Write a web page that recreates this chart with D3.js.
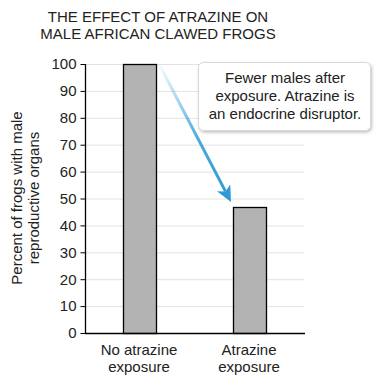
<!DOCTYPE html>
<html><head><meta charset="utf-8">
<script src="https://cdn.jsdelivr.net/npm/d3@7"></script>
<style>body{margin:0;background:#fff}svg{display:block;font-family:"Liberation Sans",Arial,sans-serif}</style>
</head><body>
<svg id="c" width="379" height="382"></svg>
<script>
const categories = [["No atrazine","exposure"],["Atrazine","exposure"]];
const values = [100, 47];
const yTicks = [0,10,20,30,40,50,60,70,80,90,100];
const titleLines = ["THE EFFECT OF ATRAZINE ON","MALE AFRICAN CLAWED FROGS"];
const yLabelLines = ["Percent of frogs with male","reproductive organs"];
const calloutLines = ["Fewer males after","exposure. Atrazine is","an endocrine disruptor."];

const FS = 15;
const svg = d3.select("#c");
const keys = categories.map((d,i)=>String(i));
const x = d3.scaleBand().domain(keys).range([84,304]).paddingInner(0.7).paddingOuter(0.35);
const y = d3.scaleLinear().domain([0,100]).range([333,64]);

// grid
svg.append("g").selectAll("line").data(yTicks.filter(d=>d>0)).join("line")
  .attr("x1",85).attr("x2",304).attr("y1",d=>y(d)+0.5).attr("y2",d=>y(d)+0.5)
  .attr("stroke","#e3e3e3").attr("stroke-width",1);

// bars
svg.append("g").selectAll("rect").data(values).join("rect")
  .attr("x",(d,i)=>Math.round(x(keys[i]))+0.5).attr("y",d=>Math.round(y(d))+0.5)
  .attr("width",Math.round(x.bandwidth())).attr("height",d=>Math.round(y(0))-Math.round(y(d)))
  .attr("fill","#b3b3b3").attr("stroke","#000").attr("stroke-width",1.3);

// y axis
const ya = svg.append("g").attr("transform","translate(85.5,0)")
  .call(d3.axisLeft(y).tickValues(yTicks).tickSize(5).tickPadding(4));
ya.select(".domain").attr("d",`M0,${y(100)}V${y(0)}`).attr("stroke","#000").attr("stroke-width",1.3);
ya.selectAll(".tick line").attr("stroke","#000");
ya.selectAll("text").attr("font-size",FS).attr("fill","#222").style("font-family","'Liberation Sans',Arial,sans-serif");

// x axis line
svg.append("line").attr("x1",85).attr("x2",305).attr("y1",y(0)+0.5).attr("y2",y(0)+0.5)
  .attr("stroke","#000").attr("stroke-width",1.3);

// x labels
const xl = svg.append("g").selectAll("text").data(categories).join("text")
  .attr("x",(d,i)=>x(keys[i])+x.bandwidth()/2).attr("y",354.5)
  .attr("text-anchor","middle").attr("font-size",FS).attr("fill","#222");
xl.selectAll("tspan").data(d=>d).join("tspan")
  .attr("x",function(){return this.parentNode.getAttribute("x");})
  .attr("dy",(d,i)=>i?17.5:0).text(d=>d);

// title
svg.append("g").selectAll("text").data(titleLines).join("text")
  .attr("x",158).attr("y",(d,i)=>21.5+i*17).attr("text-anchor","middle")
  .attr("font-size",FS).attr("fill","#222").text(d=>d);

// y label
svg.append("g").attr("transform","translate(0,198) rotate(-90)").selectAll("text")
  .data(yLabelLines).join("text").attr("x",0).attr("y",(d,i)=>22+i*16.8)
  .attr("text-anchor","middle").attr("font-size",FS).attr("fill","#222").text(d=>d);

// arrow
const defs = svg.append("defs");
const x0 = x(keys[0])+x.bandwidth()+3, y0 = y(values[0])-1;
const x1 = x(keys[1])-1.5, y1 = y(values[1])-4.5;
const g = defs.append("linearGradient").attr("id","ag").attr("gradientUnits","userSpaceOnUse")
  .attr("x1",x0).attr("y1",y0).attr("x2",x1).attr("y2",y1);
g.append("stop").attr("offset","0").attr("stop-color","#2b9ad6").attr("stop-opacity",0);
g.append("stop").attr("offset","0.55").attr("stop-color","#2b9ad6").attr("stop-opacity",0.85);
g.append("stop").attr("offset","1").attr("stop-color","#2b9ad6").attr("stop-opacity",1);
const ang = Math.atan2(y1-y0,x1-x0);
const hl = 16, hw = 7.5;
const bx = x1-hl*Math.cos(ang), by = y1-hl*Math.sin(ang);
svg.append("line").attr("x1",x0).attr("y1",y0).attr("x2",bx+4*Math.cos(ang)).attr("y2",by+4*Math.sin(ang))
  .attr("stroke","url(#ag)").attr("stroke-width",3);
const px = -Math.sin(ang), py = Math.cos(ang);
svg.append("path").attr("d",`M${x1},${y1}L${bx+hw*px},${by+hw*py}L${bx+4*Math.cos(ang)},${by+4*Math.sin(ang)}L${bx-hw*px},${by-hw*py}Z`)
  .attr("fill","#2b9ad6");

// callout
const sh = defs.append("filter").attr("id","sh").attr("x","-10%").attr("y","-10%").attr("width","130%").attr("height","140%");
sh.append("feDropShadow").attr("dx",1).attr("dy",1.5).attr("stdDeviation",1.5).attr("flood-color","#000").attr("flood-opacity",0.25);
svg.append("rect").attr("x",198.5).attr("y",62.5).attr("width",172).attr("height",68).attr("rx",5)
  .attr("fill","#fff").attr("stroke","#d8d8d8").attr("filter","url(#sh)");
svg.append("g").selectAll("text").data(calloutLines).join("text")
  .attr("x",285).attr("y",(d,i)=>82.5+i*18).attr("text-anchor","middle")
  .attr("font-size",FS).attr("fill","#222").text(d=>d);
</script>
</body></html>
